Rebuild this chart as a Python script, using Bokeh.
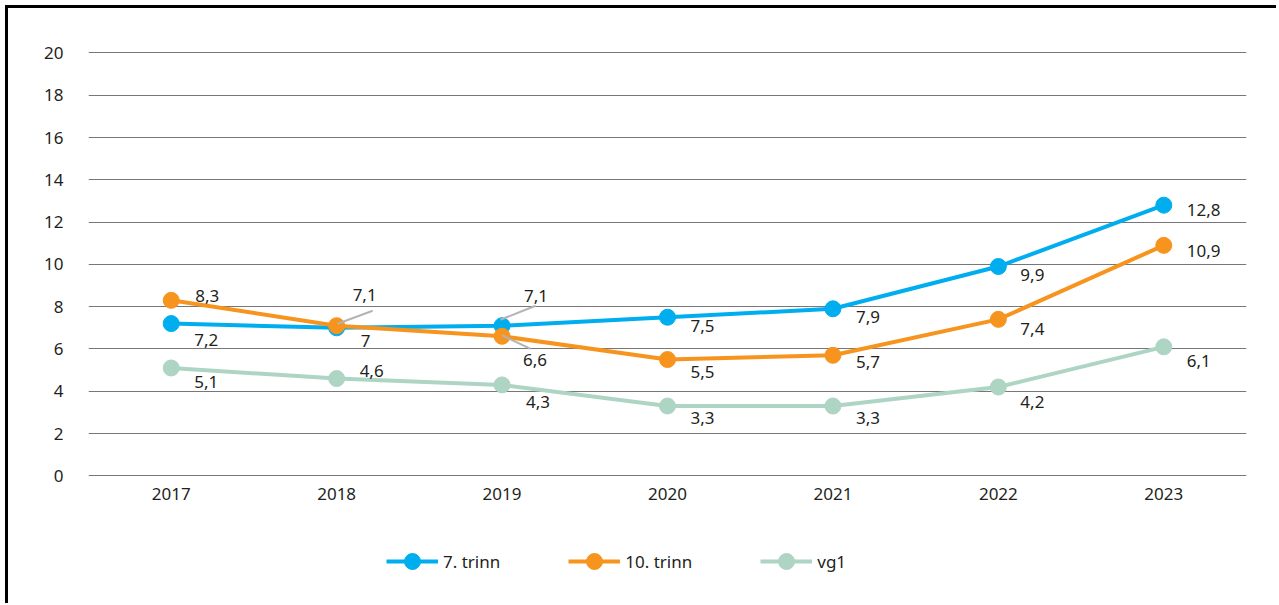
from bokeh.plotting import figure
from bokeh.models import Range1d, FixedTicker, Legend, LegendItem, ColumnDataSource
from bokeh.core.properties import value
from bokeh.embed import file_html
from bokeh.resources import INLINE

# ---- data ----
years = ["2017", "2018", "2019", "2020", "2021", "2022", "2023"]
trinn7 = [7.2, 7.0, 7.1, 7.5, 7.9, 9.9, 12.8]
trinn10 = [8.3, 7.1, 6.6, 5.5, 5.7, 7.4, 10.9]
vg1 = [5.1, 4.6, 4.3, 3.3, 3.3, 4.2, 6.1]
series_names = ["7. trinn", "10. trinn", "vg1"]
y_ticks = [0, 2, 4, 6, 8, 10, 12, 14, 16, 18, 20]

# ---- style ----
colors = ["#00AEEF", "#F7941D", "#AED4C4"]
FONT = "Noto Sans"
TXT = "#231F20"
# label offsets in screen px (left-aligned text), per series
lab_dx = [[23, 24, 22, 23, 23, 22, 23],
          [24, 16, 21, 23, 23, 22, 23],
          [23, 23, 24, 23, 23, 22, 23]]
lab_dy = [[16, 13, -30, 9, 8, 8, 5],
          [-4.5, -31, 24, 12, 7, 9.5, 5.5],
          [14, -8, 17, 12, 12, 15, 14]]
# leader lines: (series, year index, start dx, start dy, end dx, end dy) in px
leaders = [(1, 1, 1, -2, 36, -15),
           (0, 2, -1.5, -6, 33.5, -20),
           (1, 2, 0, -1, 28.5, 12.6)]

# frame extends below the 0-line to hold the axis labels and the legend
PAD = 0.0709
YBOT = -5.0
FW, FH = 1158, 530
ppx = FW / len(years)
ppy = FH / (20.0 + PAD - YBOT)

p = figure(frame_width=FW, frame_height=FH, output_backend="svg", toolbar_location=None,
           x_range=Range1d(-0.5, len(years) - 0.5), y_range=Range1d(YBOT, 20 + PAD),
           min_border_left=80, min_border_right=30, min_border_top=43, min_border_bottom=22,
           background_fill_color="white", border_fill_color="white")
p.styles = {"border-left": "3px solid #000000", "border-top": "3px solid #000000",
            "margin-left": "5px", "margin-top": "5px"}
p.outline_line_color = None
p.xgrid.grid_line_color = None
p.ygrid.grid_line_color = "#777777"
p.ygrid.grid_line_width = 1.2
p.ygrid.ticker = FixedTicker(ticks=y_ticks)

p.yaxis.ticker = FixedTicker(ticks=y_ticks)
p.xaxis.ticker = FixedTicker(ticks=list(range(len(years))))
p.xaxis.major_label_overrides = {i: y for i, y in enumerate(years)}
p.xaxis.fixed_location = 0
for ax in (p.xaxis, p.yaxis):
    ax.axis_line_color = None
    ax.major_tick_line_color = None
    ax.minor_tick_line_color = None
    ax.major_tick_out = 0
    ax.major_tick_in = 0
    ax.major_label_text_font = FONT
    ax.major_label_text_font_size = "17px"
    ax.major_label_text_color = TXT
p.yaxis.major_label_standoff = 25
p.xaxis.major_label_standoff = 12

xs = list(range(len(years)))
all_series = [trinn7, trinn10, vg1]
items = {}
for idx in (2, 0, 1):
    vals = all_series[idx]
    src = ColumnDataSource(dict(x=xs, y=vals))
    lr = p.line("x", "y", source=src, line_color=colors[idx], line_width=4)
    sr = p.scatter("x", "y", source=src, size=16, fill_color=colors[idx], line_color=colors[idx])
    items[idx] = [lr, sr]

# leader lines
for (s, i, x0, y0, x1, y1) in leaders:
    v = all_series[s][i]
    p.segment(x0=[i + x0 / ppx], y0=[v - y0 / ppy], x1=[i + x1 / ppx], y1=[v - y1 / ppy],
              line_color="#B3B3B3", line_width=2)

# data labels
for s, vals in enumerate(all_series):
    txt = [("%g" % v).replace(".", ",") for v in vals]
    src = ColumnDataSource(dict(x=xs, y=vals, t=txt, dx=lab_dx[s], dy=lab_dy[s]))
    p.text("x", "y", text="t", source=src, x_offset="dx", y_offset="dy",
           text_align="left", text_baseline="middle", text_font=value(FONT),
           text_font_size="17px", text_color=TXT)

legend = Legend(items=[LegendItem(label=series_names[i], renderers=items[i]) for i in (0, 1, 2)],
                orientation="horizontal", location=(298, 0),
                glyph_width=52, glyph_height=40, label_standoff=5, spacing=68,
                padding=0, margin=0, border_line_color=None, background_fill_alpha=0,
                label_text_font=FONT, label_text_font_size="17px", label_text_color=TXT)
p.add_layout(legend, "center")

open("out.html", "w").write(file_html(p, INLINE))
